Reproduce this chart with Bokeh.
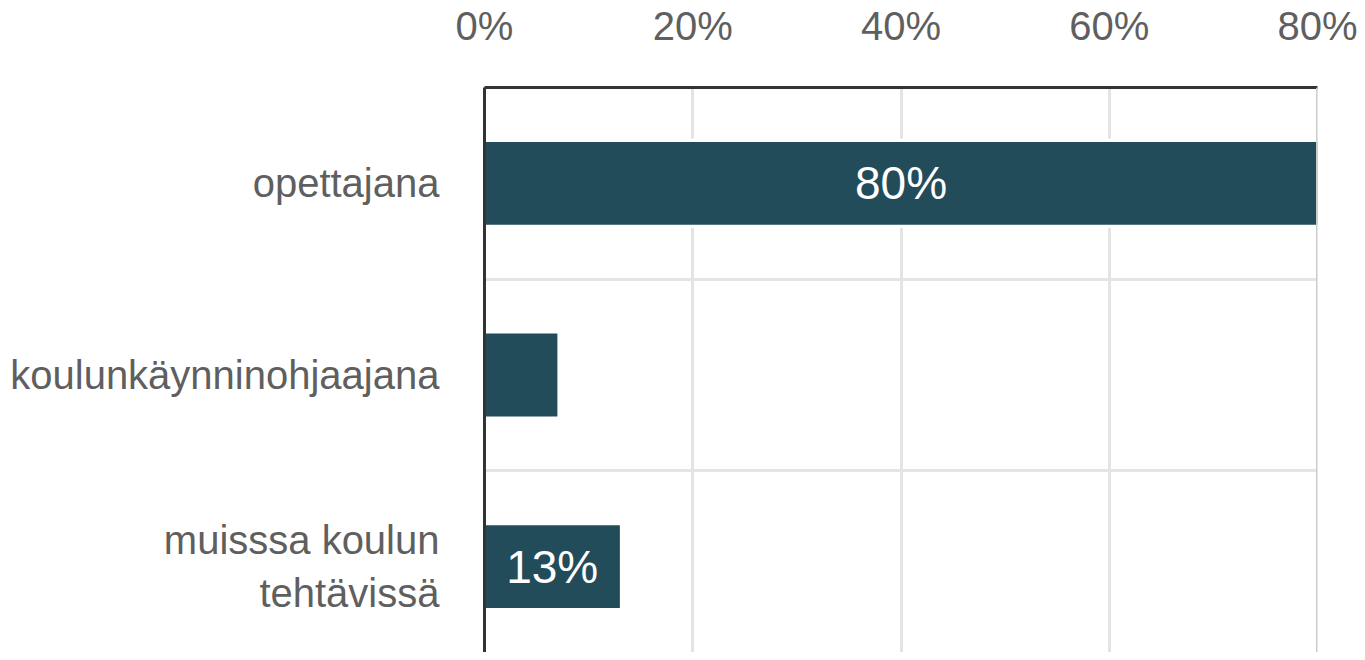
from bokeh.plotting import figure
from bokeh.models import Range1d, FixedTicker, PrintfTickFormatter, Span, ColumnDataSource
from bokeh.core.properties import value
from bokeh.embed import file_html
from bokeh.resources import INLINE

categories = ["opettajana", "koulunkäynninohjaajana", "muisssa koulun\ntehtävissä"]
values = [80, 7, 13]
x_ticks = [0, 20, 40, 60, 80]

FONT = "Liberation Sans"
BAR = "#234C5B"
TXT = "#5f5f5f"

ypos = list(range(len(categories)))
labels = [f"{v}%" if v >= 10 else "" for v in values]
src = ColumnDataSource(dict(y=ypos, v=values, mid=[v / 2 for v in values], lab=labels))

p = figure(width=1357, height=652, output_backend="svg", toolbar_location=None,
           x_range=Range1d(0, 80), y_range=Range1d(2.448, -0.5),
           x_axis_location="above", min_border_left=484, min_border_right=40,
           min_border_top=86, min_border_bottom=0)
p.outline_line_color = None
p.background_fill_color = "white"
p.border_fill_color = "white"

p.xgrid.ticker = FixedTicker(ticks=x_ticks)
p.xgrid.grid_line_color = "#e4e4e4"
p.xgrid.grid_line_width = 3
p.ygrid.ticker = FixedTicker(ticks=[0.5, 1.5])
p.ygrid.grid_line_color = "#e4e4e4"
p.ygrid.grid_line_width = 3

p.add_layout(Span(location=0, dimension="height", line_color="#cccccc", line_width=3,
                  level="underlay"))

# white halo around bars, then bars
p.hbar(y="y", left=0, right="v", height=0.464, source=src, fill_color="white",
       line_color=None)
p.hbar(y="y", left=0, right="v", height=0.432, source=src, fill_color=BAR,
       line_color=None)

p.add_layout(Span(location=80, dimension="height", line_color="#cccccc", line_width=3))

p.text(x="mid", y="y", text="lab", source=src, text_align="center", text_baseline="middle",
       text_color="white", text_font=value(FONT), text_font_size="46px")

xa = p.xaxis[0]
xa.ticker = FixedTicker(ticks=x_ticks)
xa.formatter = PrintfTickFormatter(format="%d%%")
xa.major_tick_out = 0
xa.major_tick_in = 0
xa.minor_tick_out = 0
xa.minor_tick_in = 0
xa.axis_line_color = "#333333"
xa.axis_line_width = 3
xa.major_label_text_font = FONT
xa.major_label_text_font_size = "40px"
xa.major_label_text_color = TXT
xa.major_label_standoff = 40

ya = p.yaxis[0]
ya.ticker = FixedTicker(ticks=ypos)
ya.major_label_overrides = {i: c for i, c in zip(ypos, categories)}
ya.major_tick_out = 0
ya.major_tick_in = 0
ya.minor_tick_out = 0
ya.minor_tick_in = 0
ya.axis_line_color = "#333333"
ya.axis_line_width = 3
ya.major_label_text_font = FONT
ya.major_label_text_font_size = "40px"
ya.major_label_text_color = TXT
ya.major_label_standoff = 45

open("out.html", "w").write(file_html(p, INLINE))
